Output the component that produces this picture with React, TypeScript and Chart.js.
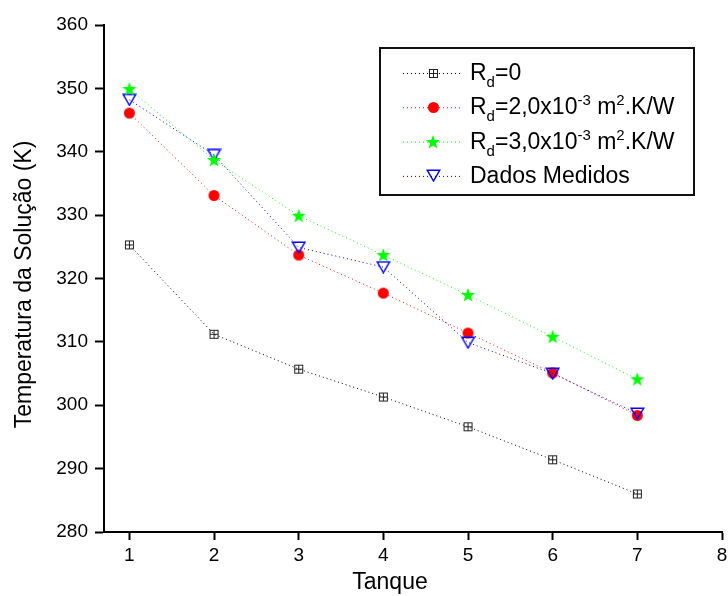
import { useEffect, useRef } from 'react';
import { Chart, registerables } from 'chart.js';

Chart.register(...registerables);

// Tank index (1..7) and solution temperature in K for each case
const tanques = [1, 2, 3, 4, 5, 6, 7];
const rd0 = [325.3, 311.2, 305.7, 301.3, 296.6, 291.4, 286.0];
const rd2 = [346.1, 333.1, 323.7, 317.7, 311.4, 305.1, 298.4];
const rd3 = [349.9, 338.7, 329.9, 323.7, 317.4, 310.8, 304.1];
const medidos = [348.2, 339.5, 324.9, 321.8, 309.9, 305.0, 298.7];

const xTicks = [1, 2, 3, 4, 5, 6, 7, 8];
const yMin = 280;
const yMax = 360;
const yStep = 10;

const xTitle = 'Tanque';
const yTitle = 'Temperatura da Solução (K)';

type Seg = { t: string; s?: 'sub' | 'sup' };
const legendRows: Seg[][] = [
  [{ t: 'R' }, { t: 'd', s: 'sub' }, { t: '=0' }],
  [{ t: 'R' }, { t: 'd', s: 'sub' }, { t: '=2,0x10' }, { t: '-3', s: 'sup' }, { t: ' m' }, { t: '2', s: 'sup' }, { t: '.K/W' }],
  [{ t: 'R' }, { t: 'd', s: 'sub' }, { t: '=3,0x10' }, { t: '-3', s: 'sup' }, { t: ' m' }, { t: '2', s: 'sup' }, { t: '.K/W' }],
  [{ t: 'Dados Medidos' }],
];

const FONT = '"Liberation Sans", Arial, Helvetica, sans-serif';

function makeMarker(w: number, h: number, draw: (ctx: CanvasRenderingContext2D) => void) {
  const c = document.createElement('canvas');
  c.width = w;
  c.height = h;
  const ctx = c.getContext('2d')!;
  draw(ctx);
  return c;
}

function buildMarkers() {
  const boxPlus = makeMarker(11, 11, (ctx) => {
    ctx.strokeStyle = '#222';
    ctx.lineWidth = 1;
    ctx.strokeRect(1.5, 1.5, 8, 8);
    ctx.beginPath();
    ctx.moveTo(5.5, 1.5);
    ctx.lineTo(5.5, 9.5);
    ctx.moveTo(1.5, 5.5);
    ctx.lineTo(9.5, 5.5);
    ctx.stroke();
  });
  const dot = makeMarker(13, 13, (ctx) => {
    ctx.fillStyle = '#ff0000';
    ctx.beginPath();
    ctx.arc(6.5, 6.5, 5.5, 0, Math.PI * 2);
    ctx.fill();
  });
  const star = makeMarker(16, 16, (ctx) => {
    ctx.fillStyle = '#00ff00';
    ctx.beginPath();
    const cx = 8, cy = 8.4, R = 7.4, r = 3.1;
    for (let i = 0; i < 10; i++) {
      const rad = i % 2 === 0 ? R : r;
      const ang = -Math.PI / 2 + (i * Math.PI) / 5;
      const px = cx + rad * Math.cos(ang);
      const py = cy + rad * Math.sin(ang);
      if (i === 0) ctx.moveTo(px, py);
      else ctx.lineTo(px, py);
    }
    ctx.closePath();
    ctx.fill();
  });
  const triDown = makeMarker(15, 13, (ctx) => {
    ctx.strokeStyle = '#0000ff';
    ctx.lineWidth = 1.4;
    ctx.beginPath();
    ctx.moveTo(1.2, 1.2);
    ctx.lineTo(13.8, 1.2);
    ctx.lineTo(7.5, 12);
    ctx.closePath();
    ctx.stroke();
  });
  return { boxPlus, dot, star, triDown };
}

function drawRich(ctx: CanvasRenderingContext2D, segs: Seg[], x: number, y: number) {
  for (const seg of segs) {
    ctx.font = `${seg.s ? 15 : 23}px ${FONT}`;
    const dy = seg.s === 'sub' ? 7 : seg.s === 'sup' ? -9 : 0;
    ctx.fillText(seg.t, x, y + dy);
    x += ctx.measureText(seg.t).width;
  }
}

export default function App() {
  const ref = useRef<HTMLCanvasElement | null>(null);

  useEffect(() => {
    if (!ref.current) return;
    const m = buildMarkers();

    const series = [
      { label: 'Rd=0', data: rd0, color: '#000000', marker: m.boxPlus, order: 3 },
      { label: 'Rd=2,0x10-3 m2.K/W', data: rd2, color: '#ff0000', marker: m.dot, order: 2 },
      { label: 'Rd=3,0x10-3 m2.K/W', data: rd3, color: '#00ff00', marker: m.star, order: 0 },
      { label: 'Dados Medidos', data: medidos, color: '#0000ff', marker: m.triDown, order: 1 },
    ];

    const annotate = {
      id: 'annotate',
      afterDraw(chart: any) {
        const { ctx, chartArea: a } = chart;
        ctx.save();
        ctx.fillStyle = '#000';
        ctx.font = `23px ${FONT}`;
        ctx.textAlign = 'center';
        ctx.textBaseline = 'alphabetic';
        ctx.fillText(xTitle, (a.left + a.right) / 2 - 23, chart.height - 7);
        ctx.save();
        ctx.translate(a.left - 73, (a.top + a.bottom) / 2 + 6);
        ctx.rotate(-Math.PI / 2);
        ctx.fillText(yTitle, 0, 0);
        ctx.restore();

        // legend box
        const bx = a.left + 276;
        const by = a.top + 23;
        const bw = 314;
        const bh = 147;
        ctx.fillStyle = '#fff';
        ctx.fillRect(bx, by, bw, bh);
        ctx.strokeStyle = '#111';
        ctx.lineWidth = 2;
        ctx.strokeRect(bx, by, bw, bh);

        ctx.textAlign = 'left';
        series.forEach((s, i) => {
          const ry = by + 25 + i * 34.3;
          ctx.save();
          ctx.strokeStyle = s.color;
          ctx.lineWidth = 1;
          ctx.setLineDash([1, 3]);
          ctx.beginPath();
          ctx.moveTo(bx + 23, ry + 0.5);
          ctx.lineTo(bx + 82, ry + 0.5);
          ctx.stroke();
          ctx.restore();
          ctx.drawImage(s.marker, Math.round(bx + 53 - s.marker.width / 2), Math.round(ry - s.marker.height / 2));
          ctx.fillStyle = '#000';
          drawRich(ctx, legendRows[i], bx + 90, ry + 7);
        });
        ctx.restore();
      },
    };

    const chart = new Chart(ref.current, {
      type: 'line',
      data: {
        datasets: series.map((s) => ({
          label: s.label,
          data: s.data.map((v, i) => ({ x: tanques[i], y: v })),
          borderColor: s.color,
          backgroundColor: s.color,
          borderWidth: 1,
          borderDash: [1, 3],
          pointStyle: s.marker,
          pointRadius: 5,
          order: s.order,
          tension: 0,
        })),
      },
      options: {
        animation: false,
        responsive: false,
        layout: { padding: { top: 25, right: 4, left: 0, bottom: 0 } },
        plugins: {
          legend: { display: false },
          tooltip: { enabled: false },
        },
        scales: {
          x: {
            type: 'linear',
            min: 0.7,
            max: 8,
            afterBuildTicks: (s: any) => {
              s.ticks = xTicks.map((v) => ({ value: v }));
            },
            afterFit: (s: any) => {
              s.height = 64;
              s.paddingLeft = 0;
              s.paddingRight = 0;
            },
            ticks: {
              color: '#000',
              font: { family: FONT, size: 19 },
              padding: 4,
              maxRotation: 0,
              autoSkip: false,
            },
            grid: {
              drawOnChartArea: false,
              drawTicks: true,
              tickLength: 8,
              tickWidth: 2,
              color: '#000',
            },
            border: { display: true, color: '#000', width: 2 },
          },
          y: {
            type: 'linear',
            min: yMin,
            max: yMax,
            afterFit: (s: any) => {
              s.width = 104;
              s.paddingTop = 0;
              s.paddingBottom = 0;
            },
            ticks: {
              stepSize: yStep,
              color: '#000',
              font: { family: FONT, size: 19 },
              padding: 7,
            },
            grid: {
              drawOnChartArea: false,
              drawTicks: true,
              tickLength: 9,
              tickWidth: 2,
              color: '#000',
            },
            border: { display: true, color: '#000', width: 2 },
          },
        },
      },
      plugins: [annotate],
    });

    return () => chart.destroy();
  }, []);

  return (
    <div style={{ position: 'absolute', left: 0, top: 0, width: 728, height: 596, background: '#fff' }}>
      <canvas ref={ref} width={728} height={596} style={{ display: 'block' }} />
    </div>
  );
}
